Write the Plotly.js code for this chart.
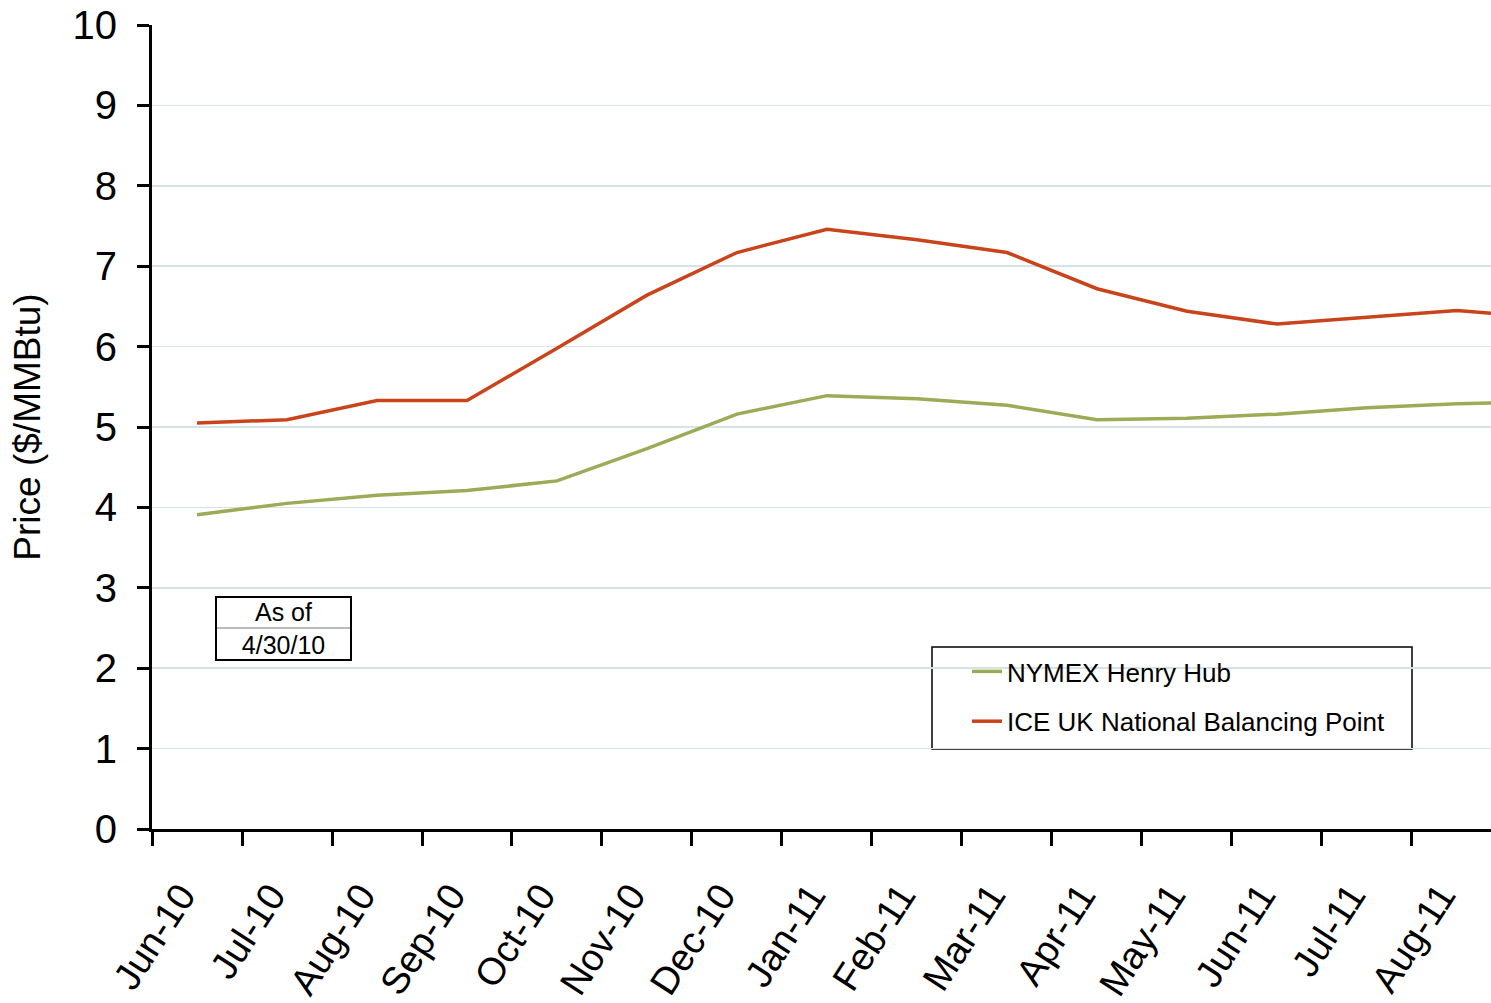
<!DOCTYPE html>
<html>
<head>
<meta charset="utf-8">
<script src="https://cdn.plot.ly/plotly-3.0.1.min.js"></script>
<style>
html,body{margin:0;padding:0;background:#fff;}
#chart{width:1491px;height:1003px;}
</style>
</head>
<body>
<div id="chart"></div>
<script>
// Data
const months = ["Jun-10","Jul-10","Aug-10","Sep-10","Oct-10","Nov-10","Dec-10","Jan-11","Feb-11","Mar-11","Apr-11","May-11","Jun-11","Jul-11","Aug-11","Sep-11"];
const henryHub = [3.91,4.05,4.15,4.21,4.33,4.73,5.16,5.39,5.35,5.27,5.09,5.11,5.16,5.24,5.29,5.31];
const nbp      = [5.05,5.09,5.33,5.33,5.98,6.64,7.17,7.46,7.33,7.17,6.72,6.44,6.28,6.36,6.45,6.36];
const yTicks = [0,1,2,3,4,5,6,7,8,9,10];

const FONT = "Liberation Sans, Arial, sans-serif";

const traces = [
  {x: months, y: henryHub, type: "scatter", mode: "lines", name: "NYMEX Henry Hub",
   legendgroup: "a", line: {color: "#9BAB57", width: 3.5}},
  {x: months, y: nbp, type: "scatter", mode: "lines", name: "ICE UK National Balancing Point",
   legendgroup: "b", line: {color: "#C9431B", width: 3.5}}
];

const layout = {
  width: 1491, height: 1003,
  margin: {l: 152, r: 0, t: 25, b: 174, pad: 0},
  paper_bgcolor: "#fff", plot_bgcolor: "#fff",
  font: {family: FONT, color: "#000"},
  showlegend: true,
  legend: {
    x: (967-152)/1339, y: (829-648)/804, xanchor: "left", yanchor: "top",
    borderwidth: 0, bgcolor: "rgba(0,0,0,0)",
    font: {family: FONT, size: 26, color: "#000"},
    traceorder: "grouped", tracegroupgap: 13
  },
  xaxis: {
    type: "category", categoryorder: "array", categoryarray: months,
    range: [-0.5, 14.378],
    tickson: "boundaries",
    ticks: "outside", ticklen: 14, tickwidth: 3, tickcolor: "#000",
    tickangle: -57,
    ticklabelstandoff: 26, ticklabelshift: -16,
    tickfont: {family: FONT, size: 38, color: "#000"},
    showline: true, linecolor: "#000", linewidth: 3,
    showgrid: false, zeroline: false, fixedrange: true
  },
  yaxis: {
    range: [0, 10], tickvals: yTicks, ticktext: yTicks.map(String),
    ticks: "outside", ticklen: 12, tickwidth: 3, tickcolor: "#000",
    ticklabelstandoff: 12,
    tickfont: {family: FONT, size: 40, color: "#000"},
    showline: true, linecolor: "#000", linewidth: 3,
    showgrid: true, gridcolor: "#D6E4E7", gridwidth: 1.5,
    zeroline: false, fixedrange: true,
    title: {text: "Price ($/MMBtu)", font: {family: FONT, size: 37, color: "#000"}, standoff: 21}
  },
  annotations: [
    {xref: "paper", yref: "paper", x: (283.5-152)/1339, y: (829-628.5)/804,
     xanchor: "center", yanchor: "middle", showarrow: false,
     text: "As of<br>4/30/10", align: "center",
     font: {family: FONT, size: 25, color: "#000"},
     width: 133, height: 61, bordercolor: "#000", borderwidth: 2, bgcolor: "rgba(0,0,0,0)", borderpad: 0}
  ],
  shapes: [
    {type: "line", xref: "paper", yref: "paper", layer: "above",
     x0: (216-152)/1339, x1: (351-152)/1339, y0: (829-628)/804, y1: (829-628)/804,
     line: {color: "#BBBBBB", width: 2}},
    {type: "rect", xref: "paper", yref: "paper", layer: "below",
     x0: (932-152)/1339, x1: (1412-152)/1339, y0: (829-749)/804, y1: (829-647)/804,
     fillcolor: "#fff", line: {color: "#000", width: 1.5}}
  ]
};

Plotly.newPlot("chart", traces, layout, {displayModeBar: false, staticPlot: true});
</script>
</body>
</html>
